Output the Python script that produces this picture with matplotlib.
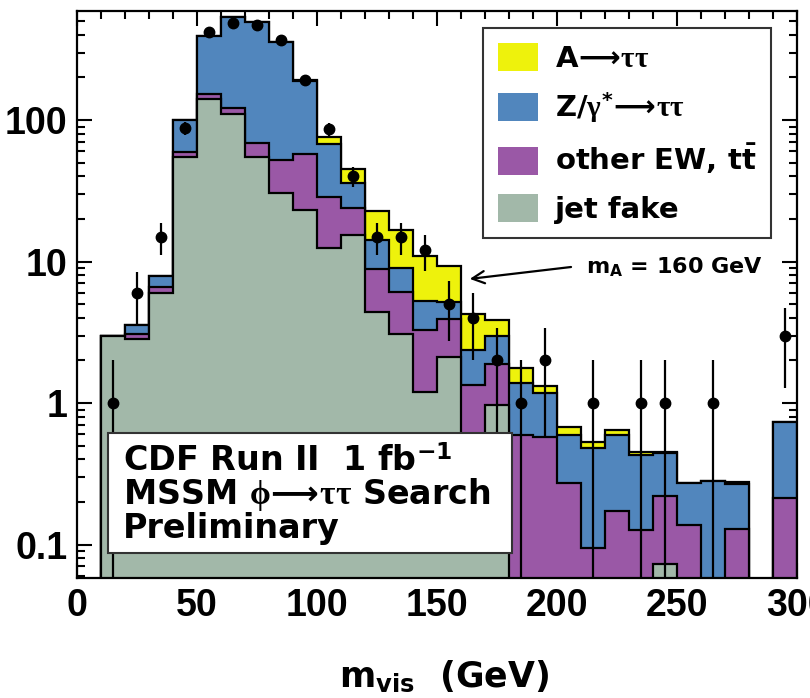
import numpy as np
import matplotlib.pyplot as plt
from matplotlib.patches import Patch, Rectangle
from matplotlib.ticker import FixedLocator, LogLocator, NullFormatter, MultipleLocator

plt.rcParams['font.family'] = 'DejaVu Sans'
plt.rcParams['font.weight'] = 'bold'
plt.rcParams['mathtext.fontset'] = 'custom'
plt.rcParams['mathtext.rm'] = 'DejaVu Sans'
plt.rcParams['mathtext.it'] = 'Liberation Serif'
plt.rcParams['mathtext.bf'] = 'DejaVu Sans:bold'
plt.rcParams['mathtext.fallback'] = 'stix'

# m_vis bins, 10 GeV wide from 10 to 300 GeV
bin_edges = np.arange(10, 301, 10)

# expected events per bin, one list per process
jet_fake = [3.0, 2.82, 5.96, 55, 141, 110, 55, 30.3, 23.1, 12.4,
            15.4, 4.4, 3.1, 1.2, 2.1, 0.5, 0.97, 0, 0, 0,
            0, 0, 0, 0.073, 0, 0, 0, 0, 0]
other_ew = [0, 0.25, 0.64, 4.7, 13, 11, 13.4, 21.7, 34.4, 16.3,
            8.4, 4.5, 3.0, 2.1, 1.8, 0.84, 0.92, 0.59, 0.58, 0.27,
            0.094, 0.173, 0.127, 0.147, 0.137, 0, 0.128, 0, 0.214]
z_tautau = [0, 0.49, 1.3, 41, 239, 414, 427, 305, 130, 38.9,
            12, 5.3, 2.84, 2.0, 1.3, 1.03, 1.11, 0.79, 0.59, 0.32,
            0.386, 0.417, 0.303, 0.22, 0.133, 0.28, 0.139, 0, 0.516]
a_tautau = [0, 0, 0, 0, 0, 0, 0, 0, 5, 7.9,
            9, 8.5, 7.8, 5.6, 4.1, 1.9, 0.86, 0.38, 0.15, 0.09,
            0.05, 0.05, 0.02, 0.01, 0, 0, 0.011, 0, 0]

# observed events
data_counts = [1, 6, 15, 88, 420, 487, 469, 367, 192, 86,
               40, 15, 15, 12, 5, 4, 2, 1, 2, 0,
               1, 0, 1, 1, 0, 1, 0, 0, 3]

arrow = r'\!\longrightarrow\!'
labels = [r'A$' + arrow + r'\tau\tau$',
          r'Z/$\gamma^{*}' + arrow + r'\tau\tau$',
          r'other EW, $\mathbf{t}\bar{\mathbf{t}}$',
          'jet fake']
colors = ['#eef20c', '#5186bd', '#9a58a6', '#a2b8a9']

fig = plt.figure(figsize=(8.1, 6.98), dpi=100)
ax = fig.add_axes([77 / 810, 120 / 698, 720 / 810, 567 / 698])
ax.set_yscale('log')

jet = np.array(jet_fake)
ew = jet + np.array(other_ew)
zz = ew + np.array(z_tautau)
aa = zz + np.array(a_tautau)

floor = 1e-4
for vals, col in zip([aa, zz, ew, jet], colors):
    ax.stairs(np.maximum(vals, floor), bin_edges, baseline=floor, fill=True,
              facecolor=col, edgecolor='black', linewidth=1.6, zorder=2)

# data points with sqrt(N) errors
centers = bin_edges[:-1] + 5
n = np.array(data_counts, dtype=float)
keep = n > 0
xc, nk = centers[keep], n[keep]
lo = nk - np.maximum(nk - np.sqrt(nk), 1e-3)
hi = np.sqrt(nk)
ax.errorbar(xc, nk, yerr=[lo, hi], fmt='o', color='black', ms=7.5,
            elinewidth=1.6, capsize=0, zorder=5)

ax.set_xlim(0, 300)
ax.set_ylim(0.058, 590)
ax.xaxis.set_major_locator(MultipleLocator(50))
ax.xaxis.set_minor_locator(MultipleLocator(10))
ax.yaxis.set_major_locator(FixedLocator([0.1, 1, 10, 100]))
ax.yaxis.set_minor_locator(LogLocator(base=10, subs=np.arange(2, 10), numticks=20))
ax.yaxis.set_minor_formatter(NullFormatter())
ax.set_yticklabels(['0.1', '1', '10', '100'])
ax.tick_params(which='both', direction='in', top=True, right=True, width=1.5)
ax.tick_params(which='major', length=11, labelsize=27, pad=7)
ax.tick_params(which='minor', length=5.5)
for lab in ax.get_xticklabels() + ax.get_yticklabels():
    lab.set_family(['Liberation Sans Narrow', 'Liberation Sans'])
    lab.set_weight('bold')
for sp in ax.spines.values():
    sp.set_linewidth(1.6)

handles = [Patch(facecolor=c, edgecolor='none') for c in colors]
leg = ax.legend(handles, labels, loc='upper left', bbox_to_anchor=(0.564, 0.970),
                fontsize=21, frameon=True, fancybox=False, edgecolor='#333333',
                framealpha=1, handlelength=1.4, handleheight=1.1,
                handletextpad=0.55, labelspacing=0.6, borderpad=0.5,
                borderaxespad=0)
leg.get_frame().set_linewidth(1.5)
leg.set_zorder(8)

# arrow pointing at the signal peak
ax.annotate('', xy=(162.5, 7.5), xytext=(207, 9.2),
            arrowprops=dict(arrowstyle='->', lw=1.6, color='black', mutation_scale=22),
            zorder=6)
ax.text(212, 9.2, r'm$_{\mathbf{A}}$ = 160 GeV', fontsize=16, va='center', zorder=6)

# experiment label box
ax.add_patch(Rectangle((0.043, 0.044), 0.561, 0.212, transform=ax.transAxes,
                       facecolor='white', edgecolor='#333333', lw=1.5, zorder=7))
box_lines = [r'CDF Run II  1 fb$^{\mathbf{-1}}$',
             r'MSSM $\phi' + arrow + r'\tau\tau$ Search',
             'Preliminary']
for txt, yy in zip(box_lines, [0.206, 0.148, 0.088]):
    ax.text(0.064, yy, txt, transform=ax.transAxes, fontsize=24,
            va='center', ha='left', zorder=8)

fig.text(444 / 810, 11 / 698, r'm$_{\mathbf{vis}}$  (GeV)', fontsize=25,
         ha='center', va='baseline')

fig.savefig('out.png', dpi=100)
